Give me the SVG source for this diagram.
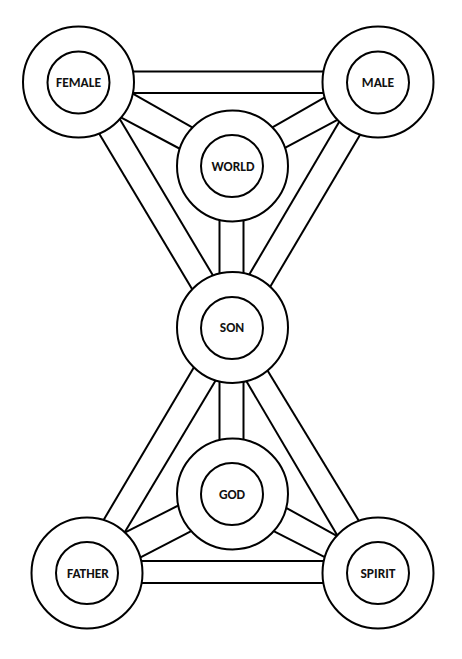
<svg xmlns="http://www.w3.org/2000/svg" width="462" height="659" viewBox="0 0 462 659">
<style>
.bg{fill:#ffffff}
.c line{stroke:#000;stroke-width:2;fill:none}
.outer{fill:#fff;stroke:#000;stroke-width:2}
.inner{fill:#fff;stroke:#000;stroke-width:2}
.lbl{font-family:Carlito,Lato,"Liberation Sans",sans-serif;font-weight:bold;font-size:13.5px;fill:#111;text-anchor:middle}
</style>
<rect class="bg" x="0" y="0" width="462" height="659"/>
<g id="connectors" class="c">
<!-- FEMALE - MALE -->
<line x1="100" y1="71.5" x2="356" y2="71.5"/>
<line x1="100" y1="93" x2="356" y2="93"/>
<!-- FEMALE - WORLD -->
<line x1="125.3" y1="89.4" x2="199.7" y2="131.6"/>
<line x1="111.9" y1="112.6" x2="187.8" y2="153"/>
<!-- MALE - WORLD -->
<line x1="331.7" y1="93.3" x2="265" y2="131.7"/>
<line x1="345.8" y1="115.3" x2="276.5" y2="152.4"/>
<!-- FEMALE - SON -->
<line x1="94.9" y1="126.4" x2="196.8" y2="296.9"/>
<line x1="115.6" y1="112.1" x2="217.8" y2="283.6"/>
<!-- MALE - SON -->
<line x1="343.8" y1="114.1" x2="244.9" y2="281.9"/>
<line x1="364.4" y1="127.4" x2="265.6" y2="294.6"/>
<!-- WORLD - SON -->
<line x1="219.5" y1="200" x2="219.5" y2="300"/>
<line x1="243.5" y1="200" x2="243.5" y2="300"/>
<!-- SON - GOD -->
<line x1="219.5" y1="355" x2="219.5" y2="465"/>
<line x1="243.5" y1="355" x2="243.5" y2="465"/>
<!-- SON - FATHER -->
<line x1="198.4" y1="359.7" x2="98.9" y2="527.9"/>
<line x1="220.1" y1="373.1" x2="119.9" y2="540.3"/>
<!-- SON - SPIRIT -->
<line x1="241.6" y1="373.1" x2="342.1" y2="543.6"/>
<line x1="263.1" y1="363.2" x2="363.2" y2="527.9"/>
<!-- GOD - FATHER -->
<line x1="117.8" y1="536.2" x2="186.2" y2="501.5"/>
<line x1="132.8" y1="561.3" x2="198.9" y2="527.1"/>
<!-- GOD - SPIRIT -->
<line x1="278.3" y1="503.5" x2="345.8" y2="540.9"/>
<line x1="265.8" y1="527.2" x2="332.6" y2="561.2"/>
<!-- FATHER - SPIRIT -->
<line x1="110" y1="561" x2="356" y2="561"/>
<line x1="110" y1="583" x2="356" y2="583"/>
</g>
<g id="female">
<circle class="outer" cx="78.5" cy="82" r="55.5"/>
<circle class="inner" cx="78.5" cy="82.5" r="31"/>
<text class="lbl" x="78.5" y="87.3">FEMALE</text>
</g>
<g id="male">
<circle class="outer" cx="378" cy="82" r="55.5"/>
<circle class="inner" cx="378" cy="82.5" r="31"/>
<text class="lbl" x="378" y="87.3">MALE</text>
</g>
<g id="world">
<circle class="outer" cx="232.5" cy="166" r="55.5"/>
<circle class="inner" cx="232" cy="166" r="31"/>
<text class="lbl" x="233" y="170.8">WORLD</text>
</g>
<g id="son">
<circle class="outer" cx="232.5" cy="327.5" r="55.5"/>
<circle class="inner" cx="232" cy="328" r="31"/>
<text class="lbl" x="232" y="332.3">SON</text>
</g>
<g id="god">
<circle class="outer" cx="232.5" cy="494" r="55.5"/>
<circle class="inner" cx="232" cy="494" r="31"/>
<text class="lbl" x="232" y="498.8">GOD</text>
</g>
<g id="father">
<circle class="outer" cx="87" cy="573" r="55.5"/>
<circle class="inner" cx="87" cy="573" r="31"/>
<text class="lbl" x="88" y="577.8">FATHER</text>
</g>
<g id="spirit">
<circle class="outer" cx="378" cy="573" r="55.5"/>
<circle class="inner" cx="378" cy="573" r="31"/>
<text class="lbl" x="378" y="577.8">SPIRIT</text>
</g>
</svg>
